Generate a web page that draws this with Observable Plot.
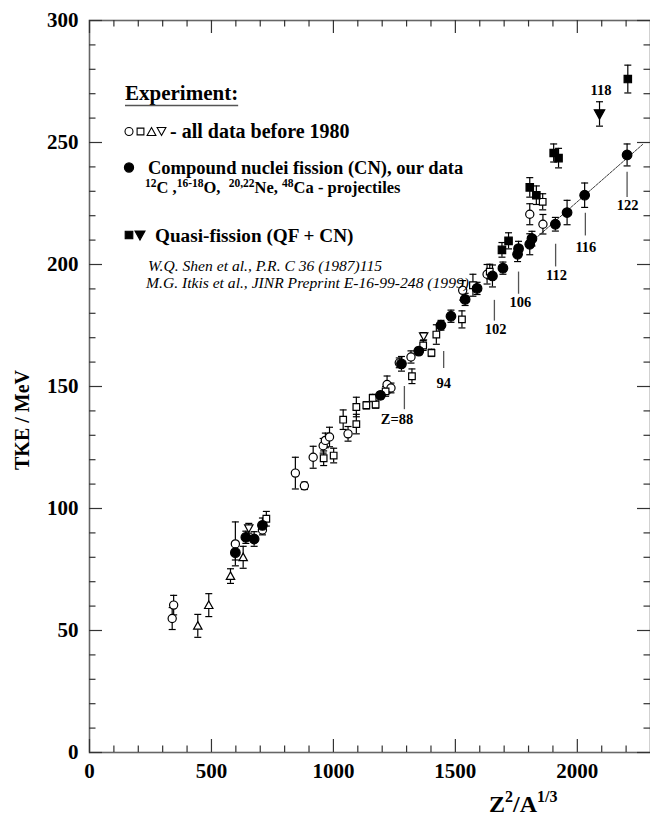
<!DOCTYPE html>
<html><head><meta charset="utf-8">
<script src="https://cdn.jsdelivr.net/npm/d3@7"></script>
<script src="https://cdn.jsdelivr.net/npm/@observablehq/plot@0.6"></script>
<style>
html,body{margin:0;padding:0;background:#fff;overflow:hidden;}
</style></head><body><div id="chart"></div>
<script>
// ---- data: [Z^2/A^1/3, TKE (MeV), error (MeV)] ----
const openCircles = [
  [345,60.4,4],[339,54.9,4.5],[598,85.5,9],[709,91.2,2],[844,114.5,6.5],[881,109.3,1.5],
  [917,121,4.5],[958,125.7,3],[967,127.9,3],[984,129.3,4],[1060,130.6,3],[1220,150.8,3.5],
  [1236,149.4,2],[1270,159.7,2],[1318,162.1,2.5],[1530,189.4,4],[1630,196,4],[1805,220.6,4.3],
  [1859,216.5,4]
];
const openSquares = [
  [725,95.8,3],[960,120.6,3],[1001,121.7,3],[1040,136.4,4],[1094,134.6,4],[1094,141.6,4],
  [1135,142.3,1.5],[1173,142.6,1.5],[1161,145.3,1.5],[1214,148,2],[1322,154.2,3],[1368,166.8,2],
  [1402,163.8,1.5],[1422,171.3,4],[1527,177.5,3.5],[1572,191.5,4.5],[1641,197.1,3],[1858,225.7,3.3]
];
const openTrianglesUp = [[444,51.9,4.7],[489,60.4,4.7],[578,72.3,3],[630,80,4.5]];
const openTrianglesDown = [[653,91.9,2],[1370,170.6,1.5]];
const cnFilledCircles = [
  [598,81.9,3],[641,88.2,2.5],[675,87.5,3],[709,93.1,3],[1193,146.4,1.5],[1279,159.3,3],
  [1350,164.5,1.5],[1441,175.1,2],[1482,178.8,2.5],[1540,185.7,2.5],[1589,190.2,2.5],
  [1652,195.3,4.5],[1695,198.5,2.5],[1755,204.2,3],[1759,206.5,3],[1805,208.3,4.3],
  [1814,210.6,3],[1910,216.5,2.8],[1958,221.3,5],[2030,228.4,5],[2204,244.9,4.5]
];
const qfFilledSquares = [
  [1691,206,3],[1718,209.7,3.3],[1805,231.6,4],[1832,228.4,3.8],[1903,245.7,3.7],
  [1923,243.6,4],[2207,276,5.7]
];
const qfFilledTrianglesDown = [[2091,261.7,5]];

// fitted line through CN points
const fitX = [1815, 2270];
const fitY = [209.5, 249.4];

// Z annotations
const annotLabels = ["Z=88","94","102","106","112","116","122"];
const annotLineX = [1291,1452,1660,1759,1911,2033,2204];
const annotLineTop = [150,164.3,185.3,196.9,208.3,221,237.8];
const annotLineBottom = [140.5,157.4,176.8,187.8,199,211.7,227.5];
const annotLabelX = [1261,1452,1665,1766,1915,2035,2206];
const annotLabelY = [136.4,151.2,173.4,184.6,195.6,206.9,224.3];
const extraLabels = ["118"];
const extraLabelX = [2097];
const extraLabelY = [271.3];

// axis ticks
const xMajor = [0,500,1000,1500,2000];
const xMinor = d3.range(100, 2300, 100).filter(v => v % 500 !== 0);
const yMajor = [0,50,100,150,200,250,300];
const yMinor = d3.range(10, 300, 10).filter(v => v % 50 !== 0);

// ---- styles ----
const FONT = "'Liberation Serif','Times New Roman',Times,serif";
const INK = "black";
const W = 650, H = 823, MT = 20, ML = 89, MR = 0, MB = 71;
const FW = W - ML - MR, FH = H - MT - MB;
const MAJ = 13, MIN = 6.5;

const rows = arr => arr.map(([x, y, e]) => ({x, y, e}));
const annots = annotLabels.map((t, i) => ({t, lx: annotLineX[i], y1: annotLineBottom[i], y2: annotLineTop[i], tx: annotLabelX[i], ty: annotLabelY[i]}));
const extras = extraLabels.map((t, i) => ({t, tx: extraLabelX[i], ty: extraLabelY[i]}));
const fit = fitX.map((x, i) => ({x, y: fitY[i]}));

const rad = size => Math.sqrt(size / Math.PI);
const capSym = {draw(c, s) { const r = rad(s); c.moveTo(-r, 0); c.lineTo(r, 0); }};
const squareSym = {draw(c, s) { const r = rad(s); c.rect(-r, -r, 2 * r, 2 * r); }};
const triUpSym = {draw(c, s) { const r = rad(s); c.moveTo(0, -r); c.lineTo(r, r * 0.8); c.lineTo(-r, r * 0.8); c.closePath(); }};
const triDownSym = {draw(c, s) { const r = rad(s); c.moveTo(0, r); c.lineTo(r, -r * 0.8); c.lineTo(-r, -r * 0.8); c.closePath(); }};

const allSeries = [openCircles, openSquares, openTrianglesUp, openTrianglesDown, cnFilledCircles, qfFilledSquares, qfFilledTrianglesDown].map(rows);
const allRows = allSeries.flat();

const tickStyle = {stroke: "#333", strokeWidth: 1.2};
const markerStyle = (sym, r, fill) => ({x: "x", y: "y", symbol: sym, r, fill, stroke: INK, strokeWidth: 1.2});

const plot = Plot.plot({
  width: W, height: H,
  marginTop: MT, marginLeft: ML, marginRight: MR, marginBottom: MB,
  x: {domain: [0, 2300]},
  y: {domain: [0, 300]},
  style: {fontFamily: FONT, background: "white", color: "black"},
  marks: [
    Plot.frame({stroke: "#666", strokeWidth: 1.6}),
    // inward ticks on all four sides
    Plot.ruleX(xMajor, {x: d => d, insetTop: FH - MAJ, ...tickStyle}),
    Plot.ruleX(xMinor, {x: d => d, insetTop: FH - MIN, ...tickStyle}),
    Plot.ruleX(xMajor, {x: d => d, insetBottom: FH - MAJ, ...tickStyle}),
    Plot.ruleX(xMinor, {x: d => d, insetBottom: FH - MIN, ...tickStyle}),
    Plot.ruleY(yMajor, {y: d => d, insetRight: FW - MAJ, ...tickStyle}),
    Plot.ruleY(yMinor, {y: d => d, insetRight: FW - MIN, ...tickStyle}),
    Plot.ruleY(yMajor, {y: d => d, insetLeft: FW - MAJ, ...tickStyle}),
    Plot.ruleY(yMinor, {y: d => d, insetLeft: FW - MIN, ...tickStyle}),
    Plot.axisX({ticks: xMajor, tickSize: 0, tickPadding: 11, fontSize: 21, fontWeight: "bold", label: null, tickFormat: d => String(d)}),
    Plot.axisY({ticks: yMajor, tickSize: 0, tickPadding: 11, fontSize: 21, fontWeight: "bold", label: null, tickFormat: d => String(d)}),
    // fit line
    Plot.line(fit, {x: "x", y: "y", stroke: "#222", strokeWidth: 0.9, strokeDasharray: "2.5,1.2"}),
    // annotation lines + labels
    Plot.ruleX(annots, {x: "lx", y1: "y1", y2: "y2", stroke: "#555", strokeWidth: 1.3}),
    Plot.text(annots, {x: "tx", y: "ty", text: "t", fontSize: 14.5, fontWeight: "bold", fill: INK}),
    Plot.text(extras, {x: "tx", y: "ty", text: "t", fontSize: 14.5, fontWeight: "bold", fill: INK}),
    // error bars
    Plot.ruleX(allRows, {x: "x", y1: d => d.y - d.e, y2: d => d.y + d.e, stroke: INK, strokeWidth: 1.2}),
    Plot.dot(allRows, {x: "x", y: d => d.y - d.e, symbol: capSym, r: 3.5, stroke: INK, strokeWidth: 1.2, fill: "none"}),
    Plot.dot(allRows, {x: "x", y: d => d.y + d.e, symbol: capSym, r: 3.5, stroke: INK, strokeWidth: 1.2, fill: "none"}),
    // markers
    Plot.dot(allSeries[0], markerStyle("circle", 4.1, "white")),
    Plot.dot(allSeries[1], markerStyle(squareSym, 3.3, "white")),
    Plot.dot(allSeries[2], markerStyle(triUpSym, 4.2, "white")),
    Plot.dot(allSeries[3], markerStyle(triDownSym, 4.2, "white")),
    Plot.dot(allSeries[4], markerStyle("circle", 4.8, INK)),
    Plot.dot(allSeries[5], markerStyle(squareSym, 3.7, INK)),
    Plot.dot(allSeries[6], markerStyle(triDownSym, 5.2, INK))
  ]
});
document.getElementById("chart").appendChild(plot);

// ---- in-plot legend and axis titles ----
const svg = d3.select(plot);
const G = svg.append("g").attr("font-family", FONT).attr("fill", INK).attr("text-anchor", "start").attr("font-size", 16);

function rich(x, y, parts, size, supSize, shiftEm, attrs = {}) {
  const t = G.append("text").attr("x", x).attr("y", y).attr("font-size", size).style("white-space", "pre");
  Object.entries(attrs).forEach(([k, v]) => t.attr(k, v));
  let up = false;
  const shift = size * shiftEm;
  parts.forEach(([s, sup]) => {
    const ts = t.append("tspan").text(s).attr("font-size", sup ? supSize : size);
    if (sup !== up) { ts.attr("dy", sup ? -shift : shift); up = sup; }
  });
  return t;
}
const sym = (type, r, cx, cy, fill) => G.append("path")
  .attr("d", d3.symbol(type, Math.PI * r * r)())
  .attr("transform", `translate(${cx},${cy})`)
  .attr("fill", fill).attr("stroke", INK).attr("stroke-width", 1.1);

const exp = G.append("text").attr("x", 125).attr("y", 100).attr("font-size", 21).attr("font-weight", "bold").text("Experiment:");
const ew = exp.node().getComputedTextLength();
G.append("line").attr("x1", 125).attr("x2", 125 + ew).attr("y1", 105.5).attr("y2", 105.5).attr("stroke", "#555").attr("stroke-width", 1.4);

sym(d3.symbolCircle, 4, 129, 131.5, "white");
sym(squareSym, 3.4, 140.5, 131.5, "white");
sym(triUpSym, 4.4, 151.5, 132, "white");
sym(triDownSym, 4.4, 161.5, 131, "white");
G.append("text").attr("x", 170).attr("y", 138).attr("font-size", 20).attr("font-weight", "bold").style("white-space", "pre").text("- all data before 1980");

sym(d3.symbolCircle, 4.6, 129, 167.5, INK);
G.append("text").attr("x", 148).attr("y", 173.5).attr("font-size", 18.5).attr("font-weight", "bold").text("Compound nuclei fission (CN), our data");
rich(145, 193, [["12", true], ["C ,", false], ["16-18", true], ["O,  ", false], ["20,22", true], ["Ne, ", false], ["48", true], ["Ca - projectiles", false]], 16.5, 11.5, 0.34, {"font-weight": "bold"});

sym(squareSym, 3.8, 129, 235, INK);
sym(triDownSym, 5, 140, 235, INK);
G.append("text").attr("x", 155).attr("y", 241.5).attr("font-size", 19.2).attr("font-weight", "bold").text("Quasi-fission (QF + CN)");

G.append("text").attr("x", 148).attr("y", 270.5).attr("font-size", 15.6).attr("font-style", "italic").text("W.Q. Shen et al., P.R. C 36 (1987)115");
G.append("text").attr("x", 146).attr("y", 287.5).attr("font-size", 15.6).attr("font-style", "italic").text("M.G. Itkis et al., JINR Preprint E-16-99-248 (1999)");

// axis titles
G.append("text").attr("transform", "translate(29,420) rotate(-90)").attr("text-anchor", "middle")
  .attr("font-size", 20).attr("font-weight", "bold").text("TKE / MeV");
rich(489, 812, [["Z", false], ["2", true], ["/A", false], ["1/3", true]], 24, 16, 0.42, {"font-weight": "bold"});
</script>
</body></html>
